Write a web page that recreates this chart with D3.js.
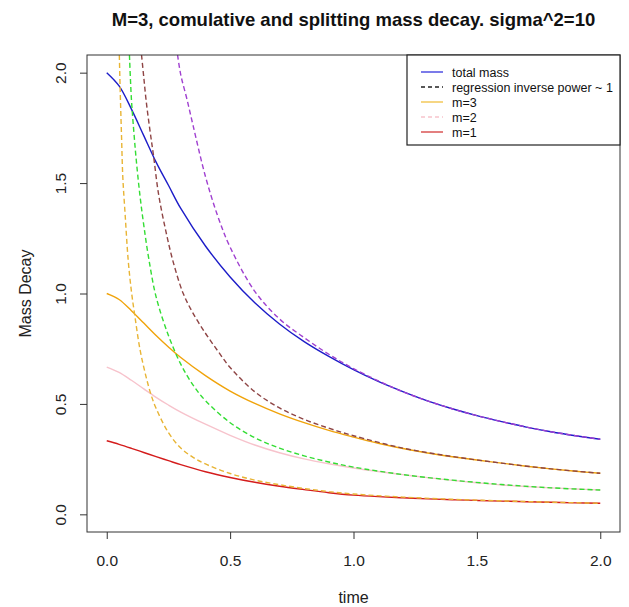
<!DOCTYPE html>
<html>
<head>
<meta charset="utf-8">
<script src="https://cdn.jsdelivr.net/npm/d3@7"></script>
<style>
  html, body { margin: 0; padding: 0; background: #fff; }
  svg { display: block; font-family: "Liberation Sans", Arial, sans-serif; }
</style>
</head>
<body>
<svg id="chart" width="629" height="607"></svg>
<script>
// Common time grid for the simulated mass curves
const times = [0, 0.05, 0.1, 0.15, 0.2, 0.25, 0.3, 0.4, 0.5, 0.6, 0.7, 0.8, 0.9, 1.0,
               1.1, 1.2, 1.3, 1.4, 1.5, 1.6, 1.7, 1.8, 1.9, 2.0];
const totalMass = [2.0, 1.94, 1.835, 1.715, 1.595, 1.49, 1.385, 1.215, 1.075, 0.958, 0.862, 0.782,
                   0.715, 0.655, 0.602, 0.556, 0.514, 0.478, 0.447, 0.42, 0.395, 0.374, 0.356, 0.34];
const massM3 = [1.0, 0.973, 0.922, 0.866, 0.81, 0.758, 0.71, 0.628, 0.558, 0.502, 0.455, 0.415,
                0.38, 0.35, 0.322, 0.298, 0.278, 0.261, 0.246, 0.232, 0.218, 0.206, 0.195, 0.186];
const massM2 = [0.667, 0.643, 0.607, 0.568, 0.53, 0.495, 0.463, 0.408, 0.358, 0.314, 0.279, 0.251,
                0.229, 0.21, 0.194, 0.18, 0.166, 0.154, 0.143, 0.133, 0.126, 0.12, 0.115, 0.11];
const massM1 = [0.333, 0.317, 0.299, 0.28, 0.261, 0.243, 0.225, 0.193, 0.167, 0.145, 0.127, 0.112,
                0.098, 0.087, 0.08, 0.075, 0.07, 0.066, 0.063, 0.06, 0.057, 0.055, 0.052, 0.05];

// Inverse-power regression fits (each on its own time grid)
const fitTotalT = [0.287, 0.3, 0.325, 0.35, 0.4, 0.45, 0.5, 0.6, 0.7, 0.8, 0.9, 1.0, 1.2, 1.4, 1.6, 1.8, 2.0];
const fitTotalV = [2.08, 1.99, 1.88, 1.76, 1.53, 1.35, 1.21, 1.01, 0.885, 0.8, 0.725, 0.66, 0.555, 0.478, 0.42, 0.374, 0.34];
const fitM3T = [0.141, 0.15, 0.16, 0.175, 0.19, 0.21, 0.24, 0.27, 0.31, 0.35, 0.4, 0.45, 0.5, 0.6, 0.7, 0.8, 0.9, 1.0, 1.2, 1.4, 1.6, 1.8, 2.0];
const fitM3V = [2.08, 1.98, 1.87, 1.74, 1.62, 1.45, 1.28, 1.14, 1.0, 0.91, 0.82, 0.74, 0.665, 0.555, 0.482, 0.43, 0.39, 0.356, 0.3, 0.262, 0.232, 0.206, 0.186];
const fitM2T = [0.092, 0.1, 0.11, 0.12, 0.135, 0.15, 0.17, 0.2, 0.25, 0.3, 0.35, 0.4, 0.5, 0.6, 0.7, 0.8, 0.9, 1.0, 1.2, 1.4, 1.6, 1.8, 2.0];
const fitM2V = [2.08, 1.88, 1.73, 1.6, 1.44, 1.31, 1.16, 0.985, 0.81, 0.68, 0.585, 0.515, 0.415, 0.347, 0.3, 0.265, 0.237, 0.214, 0.18, 0.155, 0.135, 0.12, 0.11];
const fitM1T = [0.051, 0.055, 0.06, 0.065, 0.075, 0.087, 0.1, 0.115, 0.135, 0.16, 0.18, 0.2, 0.25, 0.3, 0.35, 0.4, 0.5, 0.6, 0.7, 0.8, 0.9, 1.0, 1.2, 1.4, 1.6, 1.8, 2.0];
const fitM1V = [2.08, 1.9, 1.71, 1.53, 1.35, 1.15, 1.01, 0.89, 0.745, 0.62, 0.54, 0.48, 0.37, 0.3, 0.258, 0.228, 0.185, 0.155, 0.134, 0.117, 0.103, 0.092, 0.078, 0.068, 0.061, 0.055, 0.05];

const xTicks = [0, 0.5, 1.0, 1.5, 2.0];
const yTicks = [0, 0.5, 1.0, 1.5, 2.0];
const legendLabels = ["total mass", "regression inverse power ~ 1", "m=3", "m=2", "m=1"];

const svg = d3.select("#chart");
const plot = { left: 87, right: 620, top: 55, bottom: 532 };

// R-style 4% padding around the data range
const x = d3.scaleLinear().domain([-0.08, 2.08]).range([plot.left, plot.right]);
const y = d3.scaleLinear().domain([-0.08, 2.08]).range([plot.bottom, plot.top]);

svg.append("defs").append("clipPath").attr("id", "plotClip")
  .append("rect")
  .attr("x", plot.left).attr("y", plot.top)
  .attr("width", plot.right - plot.left).attr("height", plot.bottom - plot.top);

const line = d3.line().x(d => x(d[0])).y(d => y(d[1])).curve(d3.curveCatmullRom.alpha(0.5));
const zip = (ts, vs) => ts.map((t, i) => [t, vs[i]]);

const series = [
  { pts: zip(times, totalMass), color: "#1c1cc8", dash: null },
  { pts: zip(times, massM3), color: "#f0a30a", dash: null },
  { pts: zip(times, massM2), color: "#f7c3cc", dash: null },
  { pts: zip(times, massM1), color: "#d41c1c", dash: null },
  { pts: zip(fitTotalT, fitTotalV), color: "#a040d0", dash: "5,3" },
  { pts: zip(fitM3T, fitM3V), color: "#8e4444", dash: "5,3" },
  { pts: zip(fitM2T, fitM2V), color: "#33dd33", dash: "5,3" },
  { pts: zip(fitM1T, fitM1V), color: "#e8b434", dash: "5,3" }
];

const g = svg.append("g").attr("clip-path", "url(#plotClip)");
series.forEach(s => {
  g.append("path")
    .attr("d", line(s.pts))
    .attr("fill", "none")
    .attr("stroke", s.color)
    .attr("stroke-width", 1.4)
    .attr("stroke-dasharray", s.dash);
});

// Axes
const xAxis = svg.append("g").attr("transform", `translate(0,${plot.bottom})`)
  .call(d3.axisBottom(x).tickValues(xTicks).tickFormat(d3.format(".1f")).tickSize(7));
const yAxis = svg.append("g").attr("transform", `translate(${plot.left},0)`)
  .call(d3.axisLeft(y).tickValues(yTicks).tickFormat(d3.format(".1f")).tickSize(7));
[xAxis, yAxis].forEach(a => {
  a.select(".domain").remove();
  a.selectAll(".tick line").attr("stroke", "#333");
  a.selectAll(".tick text").attr("font-size", 15.5).attr("fill", "#222")
    .attr("font-family", "Liberation Sans, Arial, sans-serif");
});
xAxis.selectAll(".tick text").attr("dy", null).attr("y", 34);
yAxis.selectAll(".tick text")
  .attr("x", null).attr("dy", null)
  .attr("text-anchor", "middle")
  .attr("transform", "translate(-21,0) rotate(-90)");

// Plot frame
svg.append("rect")
  .attr("x", plot.left).attr("y", plot.top)
  .attr("width", plot.right - plot.left).attr("height", plot.bottom - plot.top)
  .attr("fill", "none").attr("stroke", "#333").attr("stroke-width", 1);

// Titles
svg.append("text").attr("x", (plot.left + plot.right) / 2).attr("y", 26)
  .attr("text-anchor", "middle").attr("font-size", 18.5).attr("font-weight", "bold")
  .attr("fill", "#111")
  .text("M=3, comulative and splitting mass decay. sigma^2=10");
svg.append("text").attr("x", (plot.left + plot.right) / 2).attr("y", 603)
  .attr("text-anchor", "middle").attr("font-size", 16).attr("fill", "#222")
  .text("time");
svg.append("text")
  .attr("transform", `translate(31,${(plot.top + plot.bottom) / 2}) rotate(-90)`)
  .attr("text-anchor", "middle").attr("font-size", 16).attr("fill", "#222")
  .text("Mass Decay");

// Legend
const legendStyles = [
  { color: "#3333dd", dash: null },
  { color: "#222", dash: "4,3" },
  { color: "#f2c040", dash: null },
  { color: "#f7c3cc", dash: "4,3" },
  { color: "#d43a3a", dash: null }
];
const lg = svg.append("g");
lg.append("rect").attr("x", 407).attr("y", plot.top).attr("width", plot.right - 407)
  .attr("height", 90).attr("fill", "#fff").attr("stroke", "#222").attr("stroke-width", 1.2);
legendLabels.forEach((lab, i) => {
  const cy = 72 + i * 15;
  lg.append("line").attr("x1", 421).attr("x2", 443).attr("y1", cy).attr("y2", cy)
    .attr("stroke", legendStyles[i].color).attr("stroke-width", 1.3)
    .attr("stroke-dasharray", legendStyles[i].dash);
  lg.append("text").attr("x", 452).attr("y", cy + 4.5).attr("font-size", 12.5)
    .attr("fill", "#111").text(lab);
});
</script>
</body>
</html>
